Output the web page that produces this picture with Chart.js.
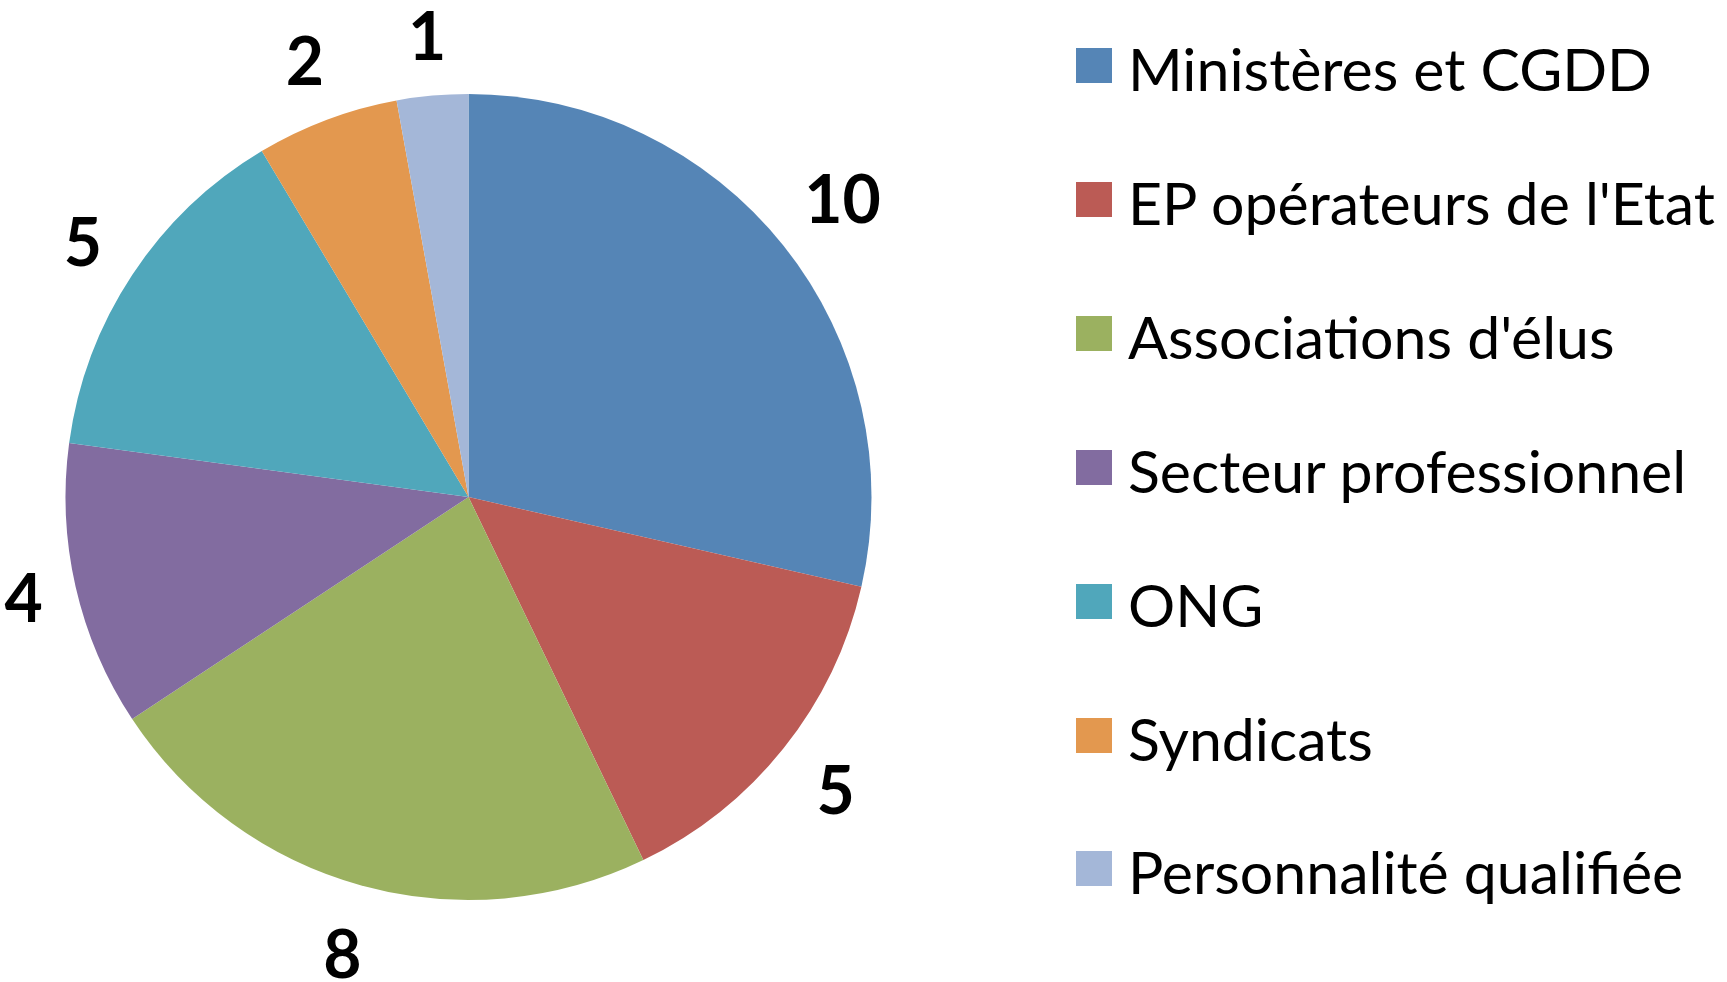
<!DOCTYPE html>
<html>
<head>
<meta charset="utf-8">
<script src="https://cdn.jsdelivr.net/npm/chart.js@4"></script>
<style>
    html, body { margin: 0; padding: 0; background: #fff; }
    #wrap { position: relative; width: 1727px; height: 982px; }
    #legend { position: absolute; left: 0; top: 0; margin: 0; padding: 0; list-style: none; }
    #legend li { position: absolute; left: 1076px; white-space: nowrap; height: 35px; }
    #legend .box { position: absolute; left: 0; top: 0; width: 36px; height: 35px; }
    #legend .txt { position: absolute; left: 52px; top: -9px; font-family: Lato, sans-serif; font-size: 59px; line-height: 59px; color: #000; }
</style>
</head>
<body>
<div id="wrap">
    <canvas id="pieChart" width="1727" height="982"></canvas>
    <ul id="legend"></ul>
</div>
<script>
// --- Data ---
const categories = [
    "Ministères et CGDD",
    "EP opérateurs de l'Etat",
    "Associations d'élus",
    "Secteur professionnel",
    "ONG",
    "Syndicats",
    "Personnalité qualifiée"
];
const memberCounts = [10, 5, 8, 4, 5, 2, 1];
const sliceColors = ["#5585b6", "#bb5b55", "#9bb160", "#826ca0", "#50a7bb", "#e3984f", "#a4b7d8"];

// --- Value labels outside the slices (label box kept a gap from the rim) ---
const valueLabels = {
    id: 'valueLabels',
    afterDatasetsDraw(chart) {
        const ctx = chart.ctx;
        const meta = chart.getDatasetMeta(0);
        const size = 66;
        const gap = 25;
        ctx.save();
        ctx.font = `bold ${size}px Lato, sans-serif`;
        ctx.fillStyle = "#000";
        ctx.textAlign = "center";
        ctx.textBaseline = "alphabetic";
        meta.data.forEach((arc, i) => {
            const p = arc.getProps(['x', 'y', 'startAngle', 'endAngle', 'outerRadius'], true);
            const mid = (p.startAngle + p.endAngle) / 2;
            const text = String(chart.data.datasets[0].data[i]);
            const halfW = ctx.measureText(text).width / 2;
            const halfH = size * 0.72 / 2;
            const cos = Math.cos(mid), sin = Math.sin(mid);
            // text box is taller below the glyphs than above them
            const vExt = sin > 0 ? sin * (halfH + 19) : -sin * (halfH + 9);
            const r = p.outerRadius + gap + Math.abs(cos) * halfW + vExt;
            ctx.fillText(text, p.x + cos * r, p.y + sin * r + halfH);
        });
        ctx.restore();
    }
};

// --- HTML legend, one row per category ---
const htmlLegend = {
    id: 'htmlLegend',
    afterUpdate(chart) {
        const ul = document.getElementById('legend');
        ul.innerHTML = '';
        const colors = chart.data.datasets[0].backgroundColor;
        chart.data.labels.forEach((label, i) => {
            const rowY = 65.5 + 133.9 * i;
            const li = document.createElement('li');
            li.style.top = (rowY - 17.5) + 'px';
            li.innerHTML = `<span class="box" style="background:${colors[i]}"></span>` +
                `<span class="txt">${label}</span>`;
            ul.appendChild(li);
        });
    }
};

new Chart(document.getElementById('pieChart'), {
    type: 'pie',
    data: {
        labels: categories,
        datasets: [{
            data: memberCounts,
            backgroundColor: sliceColors,
            borderWidth: 0
        }]
    },
    options: {
        responsive: false,
        animation: false,
        layout: { padding: { left: 65.5, right: 855.5, top: 94, bottom: 82 } },
        plugins: {
            legend: { display: false },
            tooltip: { enabled: false }
        }
    },
    plugins: [valueLabels, htmlLegend]
});
</script>
</body>
</html>
